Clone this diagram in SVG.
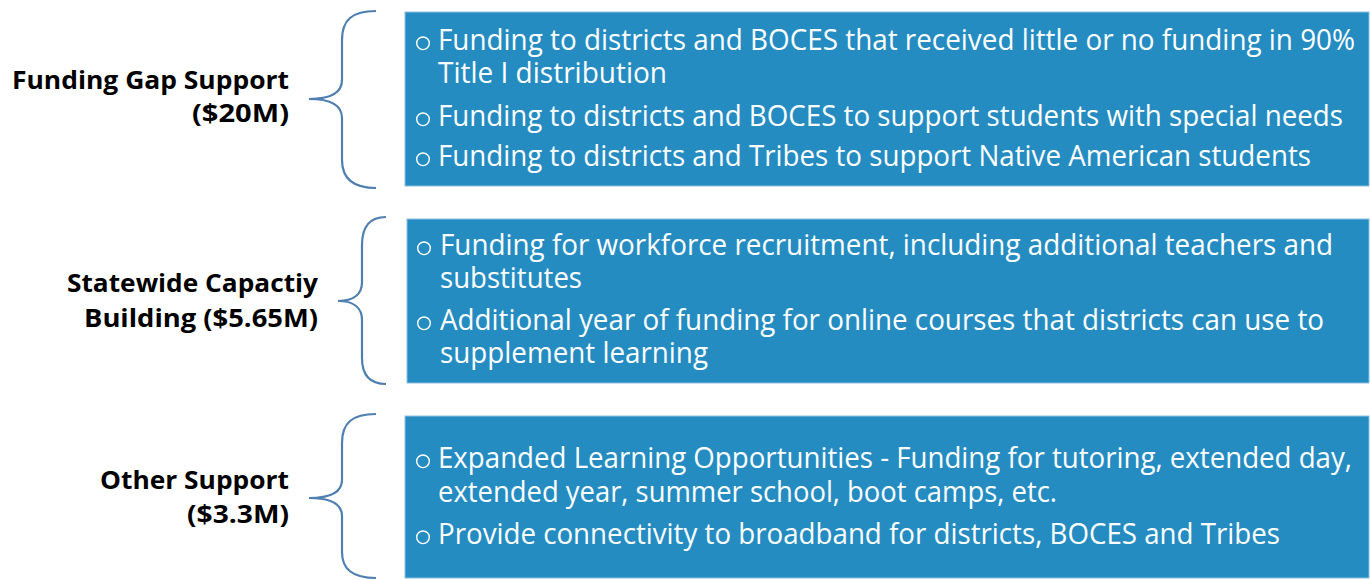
<svg xmlns="http://www.w3.org/2000/svg" width="1370" height="580" viewBox="0 0 1370 580">
<style>
.box{fill:#258cc2;stroke:#8cbfe0;stroke-width:1}
.brace{fill:none;stroke:#4f7eb0;stroke-width:2.2}
.t{font-family:"Open Sans","Noto Sans",sans-serif;font-size:29px;fill:#ffffff}
.bul{fill:none;stroke:#ffffff;stroke-width:1.4}
.lab{font-family:"Open Sans","Noto Sans",sans-serif;font-weight:bold;font-size:25.5px;fill:#000000;text-anchor:end}
</style>
<defs>
<circle id="bullet" class="bul" r="6.3"/>
</defs>
<rect width="1370" height="580" fill="#ffffff"/>
<g id="connectors">
<path class="brace" d="M376,11 C352,11 342,20 342,40 L342,80 C342,92 332,99 309,99 C332,99 342,106 342,118 L342,160 C342,178 352,188 376,188"/>
<path class="brace" d="M386,217 C370,217 362,226 362,245 L362,282 C362,294 354,301 338,301 C354,301 362,308 362,320 L362,358 C362,376 370,384 386,384"/>
<path class="brace" d="M376,414 C352,414 342,423 342,443 L342,480 C342,491 332,498 309,498 C332,498 342,505 342,516 L342,552 C342,569 352,578 376,578"/>
</g>
<g id="label1">
<text class="lab" x="289" y="89" textLength="277" lengthAdjust="spacingAndGlyphs">Funding Gap Support</text>
<text class="lab" x="289" y="122" textLength="97" lengthAdjust="spacingAndGlyphs">($20M)</text>
</g>
<g id="label2">
<text class="lab" x="318" y="292" textLength="251" lengthAdjust="spacingAndGlyphs">Statewide Capactiy</text>
<text class="lab" x="318" y="327" textLength="234" lengthAdjust="spacingAndGlyphs">Building ($5.65M)</text>
</g>
<g id="label3">
<text class="lab" x="289" y="489" textLength="189" lengthAdjust="spacingAndGlyphs">Other Support</text>
<text class="lab" x="289" y="523" textLength="102" lengthAdjust="spacingAndGlyphs">($3.3M)</text>
</g>
<g id="box1">
<rect class="box" x="405" y="12" width="964" height="174"/>
<use href="#bullet" x="423" y="43.3"/>
<text class="t" x="438" y="50" textLength="917" lengthAdjust="spacingAndGlyphs">Funding to districts and BOCES that received little or no funding in 90%</text>
<text class="t" x="438" y="83" textLength="229" lengthAdjust="spacingAndGlyphs">Title I distribution</text>
<use href="#bullet" x="423" y="119.3"/>
<text class="t" x="438" y="126" textLength="905" lengthAdjust="spacingAndGlyphs">Funding to districts and BOCES to support students with special needs</text>
<use href="#bullet" x="423" y="159.3"/>
<text class="t" x="438" y="166" textLength="873" lengthAdjust="spacingAndGlyphs">Funding to districts and Tribes to support Native American students</text>
</g>
<g id="box2">
<rect class="box" x="407" y="219" width="962" height="164"/>
<use href="#bullet" x="424" y="248.3"/>
<text class="t" x="440" y="255" textLength="893" lengthAdjust="spacingAndGlyphs">Funding for workforce recruitment, including additional teachers and</text>
<text class="t" x="440" y="288" textLength="142" lengthAdjust="spacingAndGlyphs">substitutes</text>
<use href="#bullet" x="424" y="323.3"/>
<text class="t" x="440" y="330" textLength="884" lengthAdjust="spacingAndGlyphs">Additional year of funding for online courses that districts can use to</text>
<text class="t" x="440" y="363" textLength="268" lengthAdjust="spacingAndGlyphs">supplement learning</text>
</g>
<g id="box3">
<rect class="box" x="405" y="416" width="964" height="162"/>
<use href="#bullet" x="423" y="461.3"/>
<text class="t" x="438" y="468" textLength="914" lengthAdjust="spacingAndGlyphs">Expanded Learning Opportunities - Funding for tutoring, extended day,</text>
<text class="t" x="438" y="502" textLength="619" lengthAdjust="spacingAndGlyphs">extended year, summer school, boot camps, etc.</text>
<use href="#bullet" x="423" y="537.3"/>
<text class="t" x="438" y="544" textLength="842" lengthAdjust="spacingAndGlyphs">Provide connectivity to broadband for districts, BOCES and Tribes</text>
</g>
</svg>
